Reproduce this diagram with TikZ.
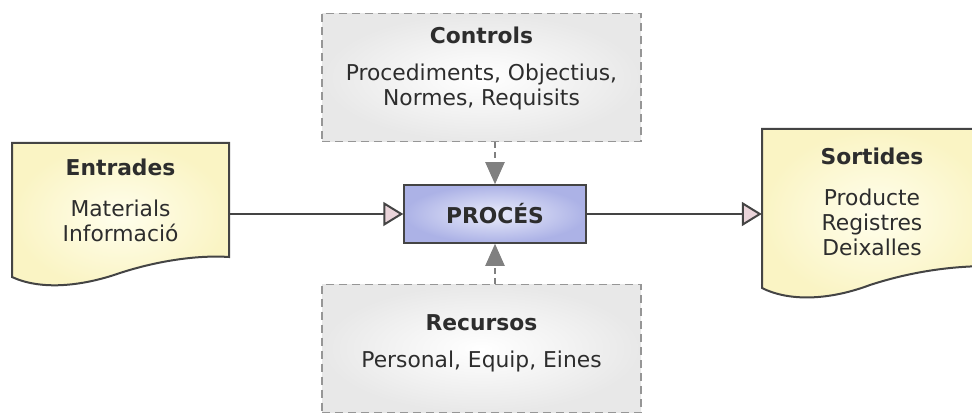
\documentclass[tikz,border=0pt]{standalone}
\usepackage{fontspec}
\setmainfont{DejaVu Sans}
\usetikzlibrary{positioning}
\usetikzlibrary{arrows.meta}

\definecolor{docYellow}{RGB}{250,244,196}
\definecolor{docLight}{RGB}{255,254,236}
\definecolor{boxGray}{RGB}{232,232,232}
\definecolor{procBlue}{RGB}{172,178,230}
\definecolor{procLight}{RGB}{234,236,251}
\definecolor{lineDark}{RGB}{68,68,68}
\definecolor{dashGray}{RGB}{150,150,150}
\definecolor{tipGray}{RGB}{128,128,128}
\definecolor{tipPink}{RGB}{234,212,218}
\definecolor{textDark}{RGB}{45,45,45}

\tikzset
  {
    bigText/.style=    {font=\fontsize{21.8}{25}\selectfont, text=textDark, align=center},
    dashBox/.style=    {draw=dashGray, dash pattern=on 8pt off 5pt, line width=1.2pt,
                        inner color=white, outer color=boxGray,
                        minimum width=319pt, minimum height=128pt},
    procBox/.style=    {draw=lineDark, line width=1.5pt, inner color=procLight, outer color=procBlue,
                        minimum width=182pt, minimum height=58pt, bigText},
    docShape/.style=   {draw=lineDark, line width=2pt, inner color=docLight, outer color=docYellow},
    flowArrow/.style=  {draw=lineDark, line width=2pt,
                        -{Triangle[length=20pt, width=24pt, fill=tipPink]}},
    ctrlArrow/.style=  {draw=tipGray, line width=2pt, dash pattern=on 6pt off 4pt,
                        -{Triangle[length=22pt, width=19pt]}}
  }

\begin{document}
\begin{tikzpicture}[x=1pt, y=-1pt]

\useasboundingbox (0,0) rectangle (972,417);

% document shapes
\path[docShape] (12,143)--(229,143)--(229,257)
  .. controls (200,255) and (160,260) .. (120,273)
  .. controls (80,287) and (40,290) .. (12,277)--cycle;

\path[docShape] (762,129)--(990,129)--(990,266)
  .. controls (950,266) and (910,272) .. (870,285)
  .. controls (830,300) and (790,302) .. (762,288)--cycle;

\node[bigText, minimum width=217pt, minimum height=114pt] (ent) at (120.5,200)
{\textbf{Entrades}\\[16pt] Materials\\ Informació};

\node[bigText, minimum width=220pt, minimum height=134pt] (out) at (872,202)
{\textbf{Sortides}\\[16pt] Producte\\ Registres\\ Deixalles};

% boxes
\node[dashBox] (ctrl) at (481.5,77.5) {};
\node[bigText] (ctrlText) at (481.5,68)
{\textbf{Controls}\\[12pt] Procediments, Objectius,\\ Normes, Requisits};

\node[dashBox] (res) at (481.5,348.5) {};
\node[bigText] (resText) at (481.5,343)
{\textbf{Recursos}\\[12pt] Personal, Equip, Eines};

\node[procBox] (proc) at (495,214) {\textbf{PROCÉS}};

% connectors
\draw[flowArrow] (ent.east |- proc.west) -- (proc.west);
\draw[flowArrow] (proc.east) -- (out.west |- proc.east);

\draw[ctrlArrow] (proc.north |- ctrl.south) -- (proc.north);
\draw[ctrlArrow] (proc.south |- res.north) -- (proc.south);

\end{tikzpicture}
\end{document}
